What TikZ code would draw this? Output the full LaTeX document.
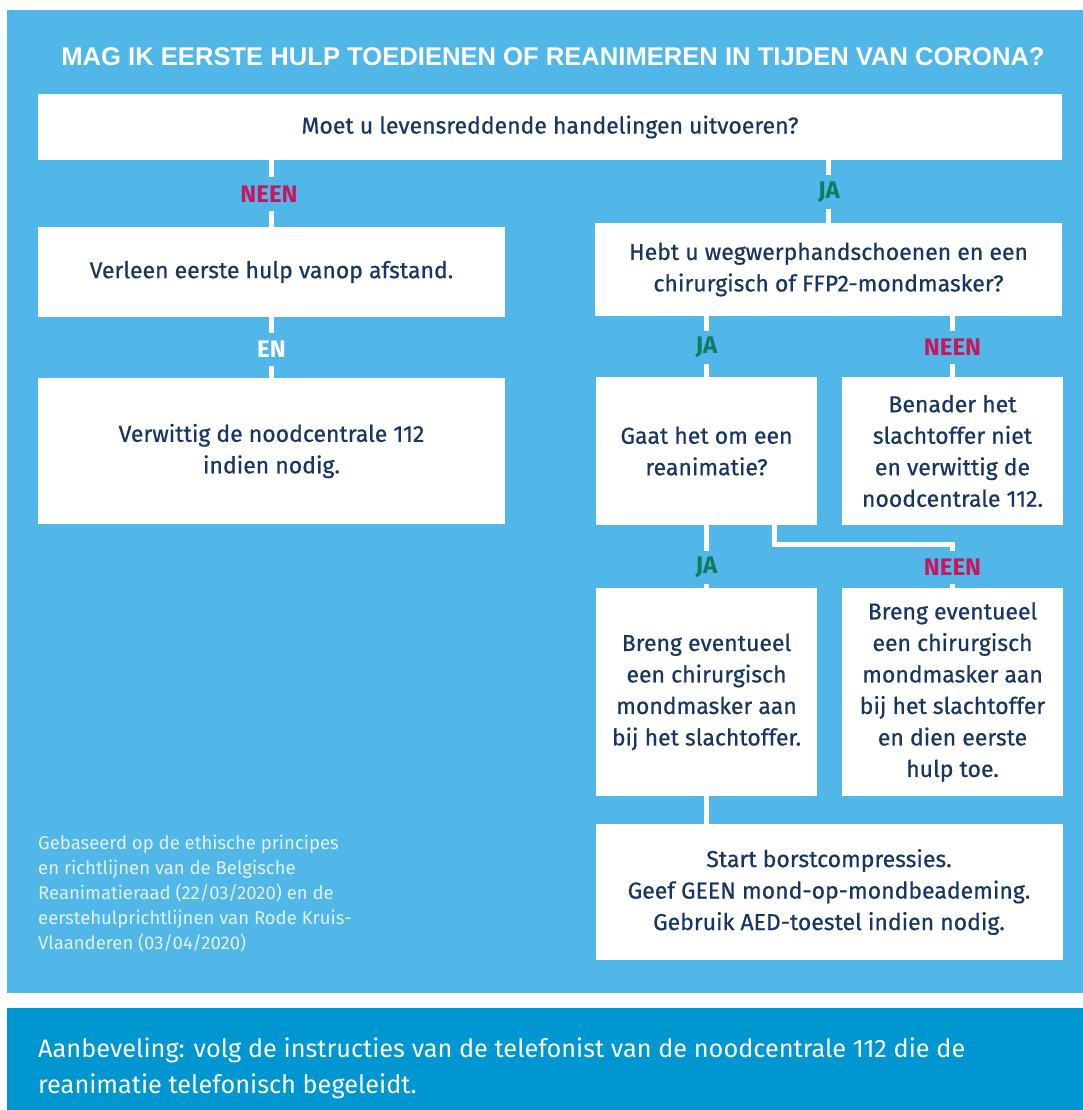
\documentclass[tikz,border=0pt]{standalone}
\usepackage{fontspec}
\setmainfont{Fira Sans}
\newfontfamily\titlefont{Liberation Sans}
\newfontfamily\boxfont{Fira Sans}[FakeBold=0.6]
\definecolor{panel}{HTML}{50B7E8}
\definecolor{band}{HTML}{0096D1}
\definecolor{ink}{HTML}{183662}
\definecolor{nee}{HTML}{C8175D}
\definecolor{ja}{HTML}{127A62}
\definecolor{note}{HTML}{E2F2FB}

\begin{document}
\begin{tikzpicture}[x=1pt, y=-1pt,
    box/.style={fill=white, text=ink, align=center, inner sep=0pt,
      font=\boxfont\fontsize{23}{31.5}\selectfont},
    link/.style={draw=white, line width=5pt},
    answer/.style={fill=panel, inner xsep=4pt, minimum height=33pt,
      font=\bfseries\fontsize{24}{26}\selectfont}]
    \useasboundingbox (0,0) rectangle (1083,1110);
    \fill[white] (0,0) rectangle (1083,1110);
    \fill[panel] (7,10) rectangle (1083,993);
    \fill[band] (7,1008) rectangle (1083,1110);
    % titel
    \node[text=white, font=\titlefont\bfseries\fontsize{25.6}{27}\selectfont] (titel) at (553,57)
      {MAG IK EERSTE HULP TOEDIENEN OF REANIMEREN IN TIJDEN VAN CORONA?};
    % vakken
    \node[box, minimum width=1024pt, minimum height=66pt] (vraag) at (550,127)
      {Moet u levensreddende handelingen uitvoeren?};
    \node[box, minimum width=467pt, minimum height=90pt] (afstand) at (271.5,272)
      {Verleen eerste hulp vanop afstand.};
    \node[box, minimum width=467pt, minimum height=146pt] (bellen) at (271.5,451)
      {Verwittig de noodcentrale 112\\indien nodig.};
    \node[box, minimum width=467pt, minimum height=93pt] (materiaal) at (828.5,269.5)
      {Hebt u wegwerphandschoenen en een\\chirurgisch of FFP2-mondmasker?};
    \node[box, minimum width=221pt, minimum height=148pt] (reani) at (706.5,451)
      {Gaat het om een\\reanimatie?};
    \node[box, minimum width=221pt, minimum height=148pt] (benader) at (952.5,451)
      {Benader het\\slachtoffer niet\\en verwittig de\\noodcentrale 112.};
    \node[box, minimum width=221pt, minimum height=208pt] (masker) at (706.5,692)
      {Breng eventueel\\een chirurgisch\\mondmasker aan\\bij het slachtoffer.};
    \node[box, minimum width=221pt, minimum height=208pt] (hulp) at (952.5,692)
      {Breng eventueel\\een chirurgisch\\mondmasker aan\\bij het slachtoffer\\en dien eerste\\hulp toe.};
    \node[box, minimum width=467pt, minimum height=136pt] (start) at (829,892)
      {Start borstcompressies.\\Geef GEEN mond-op-mondbeademing.\\Gebruik AED-toestel indien nodig.};
    % verbindingen
    \draw[link] (vraag.south -| afstand) -- (afstand.north);
    \draw[link] (afstand.south) -- (bellen.north);
    \draw[link] (vraag.south -| materiaal) -- (materiaal.north);
    \draw[link] (materiaal.south -| reani) -- (reani.north);
    \draw[link] (materiaal.south -| benader) -- (benader.north);
    \draw[link] (reani.south) -- (masker.north);
    \coordinate (knik) at (774,544);
    \draw[link] (reani.south -| knik) -- (knik) -| (hulp.north);
    \draw[link] (masker.south) -- (masker.south |- start.north);
    % antwoorden
    \node[answer, text=nee] (nee1) at (269,194) {NEEN};
    \node[answer, text=ja] (ja1) at (829,192) {JA};
    \node[answer, text=white] (en) at (271.5,349) {EN};
    \node[answer, text=ja] (ja2) at (706.5,347) {JA};
    \node[answer, text=nee] (nee2) at (952.5,347) {NEEN};
    \node[answer, text=ja] (ja3) at (706.5,567) {JA};
    \node[answer, text=nee] (nee3) at (952.5,567) {NEEN};
    % bron en aanbeveling
    \node[anchor=north west, align=left, text=note, inner sep=0pt,
      font=\fontsize{18.5}{25}\selectfont] (bron) at (38,835)
      {Gebaseerd op de ethische principes\\en richtlijnen van de Belgische\\Reanimatieraad (22/03/2020) en de\\eerstehulprichtlijnen van Rode Kruis-\\Vlaanderen (03/04/2020)};
    \node[anchor=north west, align=left, text=white, inner sep=0pt,
      font=\fontsize{25.3}{36}\selectfont] (advies) at (38,1038)
      {Aanbeveling: volg de instructies van de telefonist van de noodcentrale 112 die de\\reanimatie telefonisch begeleidt.};
\end{tikzpicture}
\end{document}
